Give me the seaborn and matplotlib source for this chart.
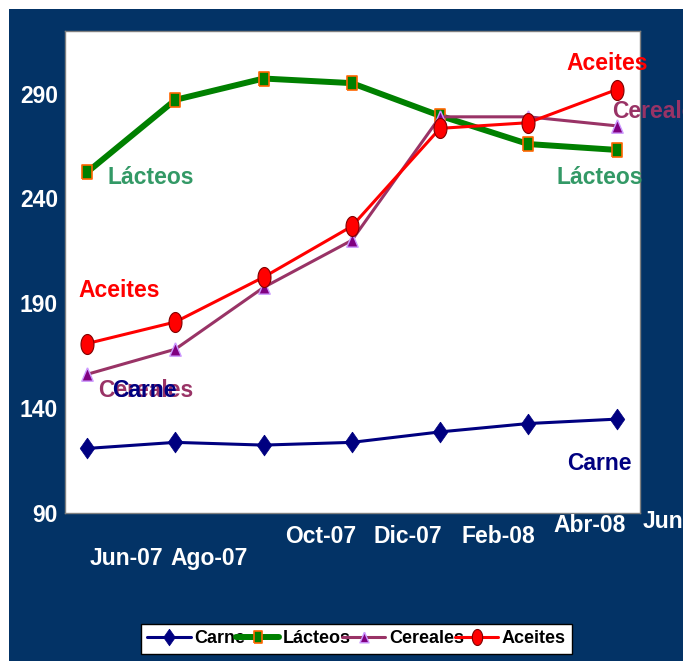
import numpy as np
import pandas as pd
import seaborn as sns
import matplotlib
matplotlib.use("Agg")
import matplotlib.pyplot as plt
from matplotlib.patches import Rectangle
from matplotlib.lines import Line2D

# Price index series, bimonthly
months = ["Jun-07", "Ago-07", "Oct-07", "Dic-07", "Feb-08", "Abr-08", "Jun-08"]
carne = [120.6, 123.5, 122.2, 123.5, 128.5, 132.5, 134.6]
lacteos = [252.5, 287.1, 297.3, 295.1, 279.5, 266.0, 263.2]
cereales = [156.0, 168.0, 197.5, 220.0, 279.0, 279.0, 274.7]
aceites = [170.7, 181.0, 202.4, 226.7, 273.5, 276.2, 292.0]
yticks = [90, 140, 190, 240, 290]

sns.set_style("white")
plt.rcParams["font.family"] = ["Liberation Sans", "DejaVu Sans"]
plt.rcParams["font.weight"] = "bold"

NAVY_BG = "#033366"

fig = plt.figure(figsize=(6.83, 6.61), dpi=100)
fig.patch.set_facecolor("white")
fig.add_artist(Rectangle((9 / 683, 0), 1 - 9 / 683, 1 - 9 / 661,
                         transform=fig.transFigure, facecolor=NAVY_BG,
                         edgecolor="none", zorder=-10))

ax = fig.add_axes([65 / 683, 1 - 512.5 / 661, 575 / 683, 481.5 / 661])
ax.set_facecolor("white")

idx = np.arange(len(months))
df = pd.DataFrame({"idx": idx, "Carne": carne, "Lácteos": lacteos,
                   "Cereales": cereales, "Aceites": aceites})

# custom marker shapes
diamond = [(0, 1), (0.7, 0), (0, -1), (-0.7, 0), (0, 1)]
tall_sq = [(-0.73, -1), (0.73, -1), (0.73, 1), (-0.73, 1), (-0.73, -1)]
tri = [(0, 1), (0.85, -1), (-0.85, -1), (0, 1)]
th = np.linspace(0, 2 * np.pi, 40)
ellipse = list(zip(0.65 * np.cos(th), np.sin(th)))

styles = {
    "Carne": dict(color="#000080", lw=2.2, marker=diamond, ms=15,
                  mfc="#000080", mec="#000080", mew=0.5),
    "Lácteos": dict(color="#008000", lw=4.3, marker=tall_sq, ms=10.6,
                    mfc="#008000", mec="#FF6600", mew=1.2),
    "Cereales": dict(color="#993366", lw=2.2, marker=tri, ms=9.6,
                     mfc="#800080", mec="#CC99FF", mew=1.0),
    "Aceites": dict(color="#FF0000", lw=2.2, marker=ellipse, ms=14.4,
                    mfc="#FF0000", mec="#800000", mew=0.8),
}

handles = []
for name, st in styles.items():
    sns.lineplot(data=df, x="idx", y=name, ax=ax, color=st["color"],
                 linewidth=st["lw"], marker=st["marker"], markersize=st["ms"],
                 markerfacecolor=st["mfc"], markeredgecolor=st["mec"],
                 markeredgewidth=st["mew"], legend=False, clip_on=False)
    handles.append(Line2D([], [], color=st["color"], lw=st["lw"],
                          marker=st["marker"], ms=st["ms"] * 0.8,
                          mfc=st["mfc"], mec=st["mec"], mew=st["mew"]))

ax.set_xlim(-0.246, 6.266)
ax.set_ylim(90, 320)
ax.set_yticks(yticks)
ax.set_yticklabels([str(v) for v in yticks], color="white",
                   fontsize=16.5, fontweight="bold")
ax.set_xticks(idx - 0.25)
ax.set_xticklabels([])
ax.set_xlabel("")
ax.set_ylabel("")
ax.tick_params(axis="y", direction="out", length=4, width=1, color="#999999", pad=1)
ax.tick_params(axis="x", direction="out", length=4, width=1, color="#999999")
for sp in ax.spines.values():
    sp.set_color("#808080")
    sp.set_linewidth(1.0)

# staggered month labels under the axis
lab_dx = [0.445, 0.385, 0.65, 0.64, 0.66, 0.70, 0.30]
lab_y = [-0.0945, -0.0945, -0.0503, -0.0503, -0.0503, -0.026, -0.019]
lab_ha = ["center"] * 6 + ["left"]
xt = ax.get_xaxis_transform()
for i, (m, dx, yy, ha) in enumerate(zip(months, lab_dx, lab_y, lab_ha)):
    ax.text(i + dx, yy, m, transform=xt, ha=ha, va="center", color="white",
            fontsize=16.5, fontweight="bold", clip_on=False)

# series name labels near first and last points
series_vals = {"Carne": carne, "Lácteos": lacteos,
               "Cereales": cereales, "Aceites": aceites}
label_colors = {"Carne": "#000080", "Lácteos": "#339966",
                "Cereales": "#993366", "Aceites": "#FF0000"}
placements = [
    ("Lácteos", 0, 20, -5, "left"),
    ("Lácteos", 6, -17, -28, "center"),
    ("Aceites", 6, -9, 26, "center"),
    ("Cereales", 6, -4, 14, "left"),
    ("Aceites", 0, -9, 53, "left"),
    ("Cereales", 0, 11, -16, "left"),
    ("Carne", 0, 25, 58, "left"),
    ("Carne", 6, -17, -44, "center"),
]
for name, i, dx, dy, ha in placements:
    ax.annotate(name, xy=(i, series_vals[name][i]), xytext=(dx, dy),
                textcoords="offset pixels", ha=ha, va="center",
                color=label_colors[name], fontsize=16.5, fontweight="bold",
                annotation_clip=False, zorder=5)

leg = fig.legend(handles, list(styles.keys()), loc="center",
                 bbox_to_anchor=(0.522, 0.0333), bbox_transform=fig.transFigure,
                 ncol=4, frameon=True, fancybox=False, fontsize=13,
                 handlelength=2.4, handletextpad=0.2, columnspacing=-0.5,
                 borderpad=0.35, borderaxespad=0)
leg.get_frame().set_edgecolor("black")
leg.get_frame().set_linewidth(1.0)
leg.get_frame().set_facecolor("white")
leg.get_frame().set_alpha(1)
for t in leg.get_texts():
    t.set_fontweight("bold")
    t.set_color("black")

fig.savefig("out.png", dpi=100)
